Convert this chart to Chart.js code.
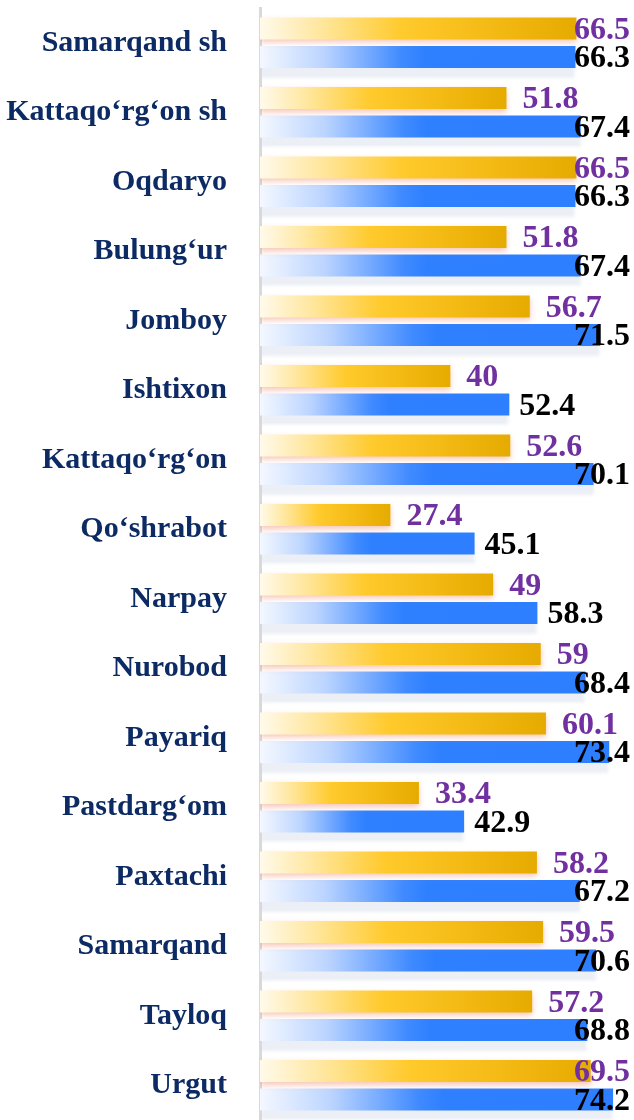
<!DOCTYPE html>
<html>
<head>
<meta charset="utf-8">
<script src="https://cdn.jsdelivr.net/npm/chart.js@4/dist/chart.umd.min.js"></script>
<style>
  html, body { margin: 0; padding: 0; background: #ffffff; }
  #c { display: block; }
</style>
</head>
<body>
<canvas id="c" width="634" height="1120"></canvas>
<script>
const categories = [
  'Samarqand sh', 'Kattaqo\u2018rg\u2018on sh', 'Oqdaryo', 'Bulung\u2018ur', 'Jomboy',
  'Ishtixon', 'Kattaqo\u2018rg\u2018on', 'Qo\u2018shrabot', 'Narpay', 'Nurobod',
  'Payariq', 'Pastdarg\u2018om', 'Paxtachi', 'Samarqand', 'Tayloq', 'Urgut'
];
const yellowValues = [66.5, 51.8, 66.5, 51.8, 56.7, 40, 52.6, 27.4, 49, 59, 60.1, 33.4, 58.2, 59.5, 57.2, 69.5];
const blueValues   = [66.3, 67.4, 66.3, 67.4, 71.5, 52.4, 70.1, 45.1, 58.3, 68.4, 73.4, 42.9, 67.2, 70.6, 68.8, 74.2];
const axisMin = 0;
const axisMax = 78.6;

function barGradient(stops, fallback) {
  return function (ctx) {
    const chart = ctx.chart;
    if (!chart.chartArea || ctx.type !== 'data') return fallback;
    const xs = chart.scales.x;
    const x0 = xs.getPixelForValue(0);
    const x1 = xs.getPixelForValue(ctx.raw);
    if (!isFinite(x0) || !isFinite(x1) || x1 - x0 < 1) return fallback;
    const g = chart.ctx.createLinearGradient(x0, 0, x1, 0);
    stops.forEach(s => g.addColorStop(s[0], s[1]));
    return g;
  };
}

const yellowStops = [[0, '#FFFAEB'], [0.18, '#FFE8A3'], [0.45, '#FFCA2C'], [0.75, '#F3B913'], [1, '#E5AB00']];
const blueStops = [[0, '#F4F8FF'], [0.2, '#BCD5FF'], [0.45, '#3F8AFF'], [0.52, '#2F80FF'], [1, '#2E7FFF']];

const shadowPlugin = {
  id: 'barShadow',
  beforeDatasetDraw(chart, args) {
    const c = chart.ctx;
    c.save();
    if (args.index === 0) {
      c.shadowColor = 'rgba(238,125,90,0.45)';
      c.shadowBlur = 6;
      c.shadowOffsetY = 3;
    } else {
      c.shadowColor = 'rgba(205,215,232,0.40)';
      c.shadowBlur = 3;
      c.shadowOffsetY = 10;
    }
  },
  afterDatasetDraw(chart) {
    chart.ctx.restore();
  }
};

const labelPlugin = {
  id: 'valueLabels',
  afterDatasetsDraw(chart) {
    const c = chart.ctx;
    c.save();
    c.font = 'bold 32px "Liberation Serif", serif';
    c.textBaseline = 'middle';
    c.textAlign = 'left';
    chart.data.datasets.forEach((ds, di) => {
      const meta = chart.getDatasetMeta(di);
      meta.data.forEach((bar, i) => {
        const txt = String(ds.data[i]);
        const w = c.measureText(txt).width;
        const off = di === 0 ? 16 : 10;
        const x = Math.min(bar.x + off, 630 - w);
        c.fillStyle = di === 0 ? '#7030A0' : '#000000';
        c.fillText(txt, x, bar.y + 2);
      });
    });
    c.restore();
  }
};

new Chart(document.getElementById('c'), {
  type: 'bar',
  data: {
    labels: categories,
    datasets: [
      {
        data: yellowValues,
        backgroundColor: barGradient(yellowStops, '#FFC92A'),
        borderWidth: 0,
        categoryPercentage: 0.82,
        barPercentage: 0.77
      },
      {
        data: blueValues,
        backgroundColor: barGradient(blueStops, '#2F80FF'),
        borderWidth: 0,
        categoryPercentage: 0.82,
        barPercentage: 0.77
      }
    ]
  },
  options: {
    indexAxis: 'y',
    responsive: false,
    devicePixelRatio: 1,
    animation: false,
    layout: { padding: { top: 8, right: 0, bottom: 0, left: 0 } },
    plugins: { legend: { display: false }, tooltip: { enabled: false } },
    scales: {
      x: { display: false, min: axisMin, max: axisMax },
      y: {
        grid: { display: false, drawTicks: false },
        border: { display: true, color: '#D9D9D9', width: 3 },
        ticks: {
          padding: 33,
          color: '#0C2A63',
          font: { family: '"Liberation Serif", serif', weight: 'bold', size: 30 }
        },
        afterFit(scale) {
          scale.width = 260;
          scale.paddingTop = 0;
          scale.paddingBottom = 0;
        }
      }
    }
  },
  plugins: [shadowPlugin, labelPlugin]
});
</script>
</body>
</html>
